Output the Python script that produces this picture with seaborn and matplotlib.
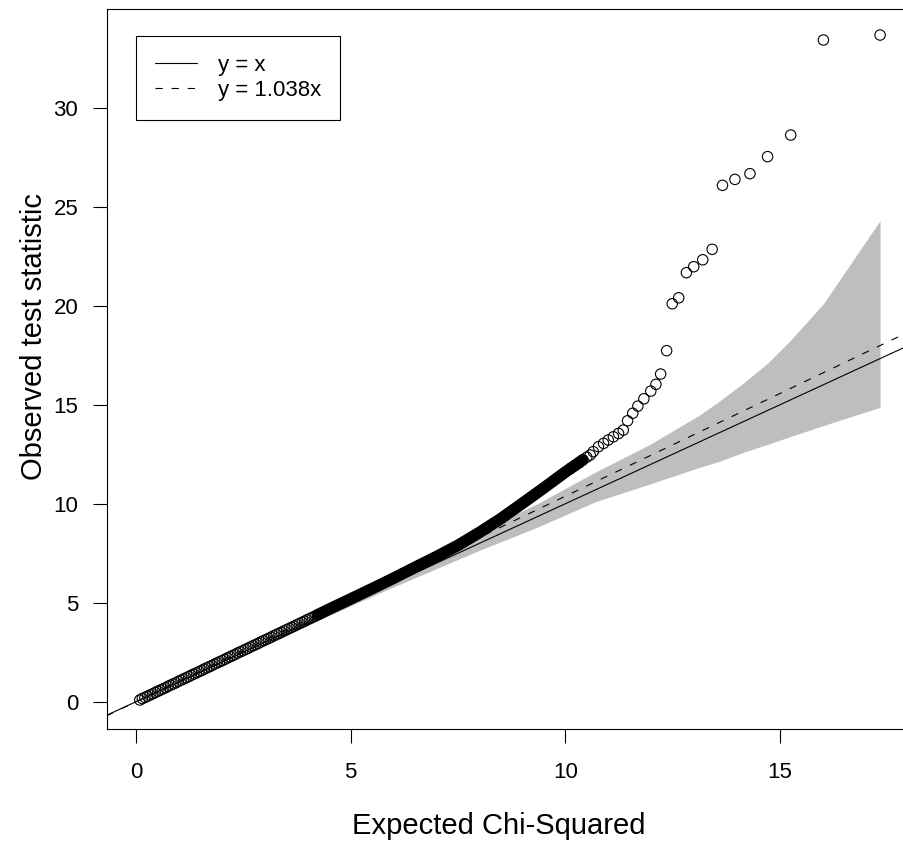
import matplotlib.pyplot as plt
import pandas as pd
import seaborn as sns

# QQ plot values
# lower part: separate (overlapping) circles
low_x = [0.09, 0.15, 0.21, 0.27, 0.33, 0.39, 0.45, 0.51, 0.57, 0.63, 0.69, 0.75, 0.81, 0.87,
         0.93, 0.99, 1.05, 1.11, 1.17, 1.23, 1.29, 1.35, 1.41, 1.47, 1.53, 1.59, 1.65, 1.71,
         1.77, 1.83, 1.89, 1.95, 2.01, 2.07, 2.13, 2.19, 2.25, 2.31, 2.37, 2.43, 2.49, 2.55,
         2.61, 2.67, 2.73, 2.79, 2.85, 2.91, 2.97, 3.03, 3.09, 3.15, 3.21, 3.27, 3.33, 3.39,
         3.45, 3.51, 3.57, 3.63, 3.69, 3.75, 3.81, 3.87, 3.93, 3.99, 4.05, 4.11, 4.17, 4.23]
low_y = [0.09, 0.16, 0.22, 0.28, 0.34, 0.40, 0.47, 0.53, 0.59, 0.65, 0.71, 0.78, 0.84, 0.90,
         0.96, 1.03, 1.09, 1.15, 1.21, 1.27, 1.34, 1.40, 1.46, 1.52, 1.58, 1.65, 1.71, 1.77,
         1.83, 1.90, 1.96, 2.02, 2.08, 2.14, 2.21, 2.27, 2.33, 2.39, 2.46, 2.52, 2.58, 2.64,
         2.70, 2.77, 2.83, 2.89, 2.95, 3.02, 3.08, 3.14, 3.20, 3.26, 3.33, 3.39, 3.45, 3.51,
         3.58, 3.64, 3.70, 3.76, 3.82, 3.89, 3.95, 4.01, 4.07, 4.14, 4.20, 4.26, 4.32, 4.39]

# middle part: points so dense they print as a solid black stroke
dense_x = [4.23, 4.60, 5.00, 5.50, 6.00, 6.50, 7.00, 7.50, 8.00, 8.50, 9.00, 9.50, 10.00, 10.40]
dense_y = [4.39, 4.78, 5.19, 5.71, 6.24, 6.79, 7.33, 7.90, 8.55, 9.25, 10.02, 10.80, 11.60, 12.20]

# upper tail
tail_x = [17.33, 16.01, 15.25, 14.71, 14.30, 13.95, 13.66, 13.42, 13.20, 12.99, 12.82, 12.64,
          12.49, 12.36, 12.22, 12.11, 11.99, 11.83, 11.69, 11.57, 11.45, 11.35, 11.24, 11.12,
          11.00, 10.89, 10.77, 10.65, 10.58, 10.50, 10.41, 10.32, 10.22, 10.12]
tail_y = [33.67, 33.42, 28.62, 27.53, 26.67, 26.38, 26.08, 22.85, 22.32, 21.97, 21.67, 20.40,
          20.10, 17.73, 16.55, 16.03, 15.69, 15.30, 14.93, 14.57, 14.19, 13.72, 13.55, 13.38,
          13.22, 13.05, 12.88, 12.63, 12.46, 12.35, 12.22, 12.07, 11.92, 11.78]

# grey confidence band
band_x = [3.00, 4.00, 6.00, 8.00, 9.33, 10.70, 11.97, 13.14, 13.60, 14.15, 14.71, 15.25, 16.01, 17.33]
band_hi = [3.08, 4.15, 6.35, 8.60, 9.98, 11.60, 13.00, 14.50, 15.20, 16.10, 17.10, 18.27, 20.10, 24.30]
band_lo = [2.93, 3.88, 5.80, 7.65, 8.80, 10.10, 11.00, 11.85, 12.15, 12.60, 13.00, 13.40, 13.95, 14.87]

# reference lines
line_slopes = [1.0, 1.038]
line_labels = ['y = x', 'y = 1.038x']

x_ticks = [0, 5, 10, 15]
y_ticks = [0, 5, 10, 15, 20, 25, 30]

sns.set_style('ticks')
plt.rcParams['font.family'] = ['Liberation Sans', 'DejaVu Sans']
plt.rcParams['text.color'] = 'black'
plt.rcParams['axes.labelcolor'] = 'black'

pts = pd.DataFrame({'expected': low_x + tail_x, 'observed': low_y + tail_y})

fig = plt.figure(figsize=(9.04, 8.43), dpi=100)
ax = fig.add_axes([106.7 / 904, (843 - 728.5) / 843, 803 / 904, 719.2 / 843])

ax.fill_between(band_x, band_lo, band_hi, color='#bebebe', lw=0, zorder=1)

handles = []
for slope, lab, ls in zip(line_slopes, line_labels, ['-', (0, (6.5, 8))]):
    h = ax.axline((0, 0), slope=slope, color='black', lw=0.8, ls=ls, label=lab, zorder=2)
    handles.append(h)

sns.lineplot(x=dense_x, y=dense_y, sort=False, estimator=None, color='black', lw=8.4,
             solid_capstyle='round', ax=ax, zorder=3)
sns.scatterplot(data=pts, x='expected', y='observed', ax=ax, marker='o', s=56,
                color='black', edgecolor='black', linewidth=0.8, zorder=4)
ax.collections[-1].set_facecolor('none')

ax.set_xlim(-0.68, 18.02)
ax.set_ylim(-1.35, 34.97)
ax.set_xticks(x_ticks)
ax.set_yticks(y_ticks)
ax.tick_params(direction='out', length=10, width=0.8, labelsize=16, colors='black')
ax.tick_params(axis='x', pad=14)
ax.tick_params(axis='y', pad=10.5)
for s in ax.spines.values():
    s.set_visible(True)
    s.set_linewidth(0.8)
    s.set_color('black')

ax.set_xlabel('Expected Chi-Squared', fontsize=21)
ax.set_ylabel('Observed test statistic', fontsize=21)
ax.xaxis.set_label_coords(0.488, -0.1165)
ax.yaxis.set_label_coords(-0.073, 0.545)

leg = ax.legend(handles=handles, labels=line_labels, loc='upper left',
                bbox_to_anchor=(0.0365, 0.9633), borderaxespad=0, fontsize=16,
                frameon=True, fancybox=False, framealpha=1, edgecolor='black',
                handlelength=1.9, handletextpad=0.95, borderpad=0.85, labelspacing=0.2)
leg.get_frame().set_linewidth(0.8)

fig.savefig('out.png', dpi=100)
